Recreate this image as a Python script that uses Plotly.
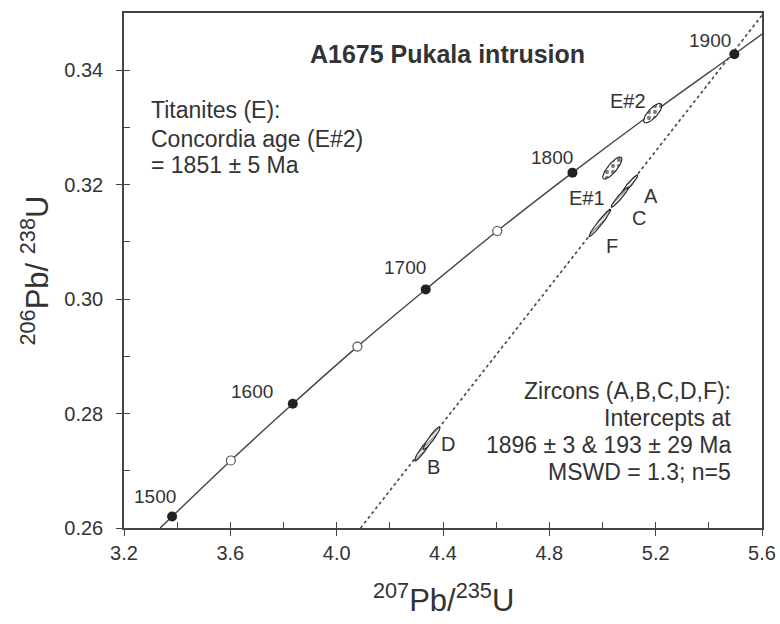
import numpy as np
import plotly.graph_objects as go

# ---- data ----
# concordia age markers (Ma) and their ratios
conc_ages = [1500, 1550, 1600, 1650, 1700, 1750, 1800, 1900]
conc_x = [3.381, 3.602, 3.835, 4.078, 4.335, 4.604, 4.887, 5.496]
conc_y = [0.2620, 0.2718, 0.2817, 0.2917, 0.3017, 0.3119, 0.3221, 0.3428]
conc_filled = [a % 100 == 0 for a in conc_ages]

# concordia curve trace points (incl. ends at the frame)
curve_x = [3.336, 3.381, 3.602, 3.835, 4.078, 4.335, 4.604, 4.887, 5.184, 5.496, 5.600]
curve_y = [0.2600, 0.2620, 0.2718, 0.2817, 0.2917, 0.3017, 0.3119, 0.3221, 0.3324, 0.3428, 0.3463]

# discordia (dotted) line end points
disc_x = [4.090, 5.600]
disc_y = [0.2600, 0.3496]

# error ellipses: name, centre x, centre y, half-width x, half-width y, rho
ell_names = ["E#2", "E#1", "A", "C", "F", "B", "D"]
ell_cx = [5.189, 5.037, 5.103, 5.065, 4.990, 4.325, 4.357]
ell_cy = [0.3325, 0.3229, 0.3201, 0.3178, 0.3133, 0.2737, 0.2757]
ell_ax = [0.0345, 0.0362, 0.0299, 0.0323, 0.0410, 0.0319, 0.0319]
ell_ay = [0.00170, 0.00194, 0.00161, 0.00174, 0.00240, 0.00199, 0.00199]
ell_rho = [0.760, 0.810, 0.945, 0.953, 0.965, 0.933, 0.933]
ell_kind = ["titanite", "titanite", "zircon", "zircon", "zircon", "zircon", "zircon"]

x_ticks = [3.2, 3.6, 4.0, 4.4, 4.8, 5.2, 5.6]
x_ticklabels = ["3.2", "3.6", "4.0", "4.4", "4.8", "5.2", "5.6"]
y_ticks = [0.26, 0.28, 0.30, 0.32, 0.34]
y_ticklabels = ["0.26", "0.28", "0.30", "0.32", "0.34"]

FONT = "Liberation Sans, Arial, sans-serif"
DARK = "#333333"
LINE = "#444444"

fig = go.Figure()

# discordia
fig.add_trace(go.Scatter(x=disc_x, y=disc_y, mode="lines",
                         line=dict(color=LINE, width=1.6, dash="dot"),
                         hoverinfo="skip", showlegend=False))
# concordia curve
fig.add_trace(go.Scatter(x=curve_x, y=curve_y, mode="lines", line_shape="spline",
                         line=dict(color=LINE, width=1.4),
                         hoverinfo="skip", showlegend=False))
# age markers
fx = [x for x, f in zip(conc_x, conc_filled) if f]
fy = [y for y, f in zip(conc_y, conc_filled) if f]
ox = [x for x, f in zip(conc_x, conc_filled) if not f]
oy = [y for y, f in zip(conc_y, conc_filled) if not f]
fig.add_trace(go.Scatter(x=ox, y=oy, mode="markers",
                         marker=dict(size=9, color="white", line=dict(color="#555555", width=1.2)),
                         showlegend=False))
fig.add_trace(go.Scatter(x=fx, y=fy, mode="markers",
                         marker=dict(size=10, color="#222222", line=dict(width=0)),
                         showlegend=False))

# ellipses
t = np.linspace(0, 2 * np.pi, 120)
for n, cx, cy, ax, ay, r, k in zip(ell_names, ell_cx, ell_cy, ell_ax, ell_ay, ell_rho, ell_kind):
    ex = cx + ax * np.cos(t)
    ey = cy + ay * (r * np.cos(t) + np.sqrt(1 - r * r) * np.sin(t))
    if k == "titanite":
        patt = dict(shape=".", fgcolor="#000000", bgcolor="white", size=6, solidity=0.4)
    else:
        patt = dict(shape="/", fgcolor="#222222", bgcolor="white", size=3, solidity=0.5)
    fig.add_trace(go.Scatter(x=ex, y=ey, mode="lines", fill="toself",
                             fillpattern=patt, fillcolor="white",
                             line=dict(color="#222222", width=1.1),
                             hoverinfo="skip", showlegend=False, name=n))

# invisible trace on overlay axes (for inner tick marks)
fig.add_trace(go.Scatter(x=[x_ticks[0]], y=[y_ticks[0]], xaxis="x2", yaxis="y2",
                         mode="markers", marker=dict(opacity=0), hoverinfo="skip",
                         showlegend=False))

ann = []
# age labels
age_lbl = [("1500", 3.3166, 0.26546), ("1600", 3.6815, 0.2838), ("1700", 4.257, 0.30546),
           ("1800", 4.810, 0.32467), ("1900", 5.4044, 0.34528)]
for txt, x, y in age_lbl:
    ann.append(dict(x=x, y=y, xref="x", yref="y", text=txt, showarrow=False,
                    font=dict(family=FONT, size=19, color=DARK)))
# ellipse labels
ell_lbl = [("E#2", 5.096, 0.33463), ("E#1", 4.9417, 0.31767), ("A", 5.1825, 0.31803),
           ("C", 5.1374, 0.31419), ("F", 5.0358, 0.3093), ("D", 4.4188, 0.27475),
           ("B", 4.3624, 0.27073)]
for txt, x, y in ell_lbl:
    ann.append(dict(x=x, y=y, xref="x", yref="y", text=txt, showarrow=False,
                    font=dict(family=FONT, size=20, color=DARK)))

# title
ann.append(dict(x=0.5078, y=0.9515, xref="paper", yref="paper", showarrow=False,
                text="<b>A1675 Pukala intrusion</b>",
                font=dict(family=FONT, size=25, color=DARK)))
# left block
left_lines = ["Titanites (E):", "Concordia age (E#2)", "= 1851 ± 5 Ma"]
for txt, yy in zip(left_lines, [0.8117, 0.7563, 0.7054]):
    ann.append(dict(x=0.0408, y=yy, xref="paper", yref="paper", showarrow=False,
                    xanchor="left", yanchor="middle", text=txt, borderpad=0,
                    font=dict(family=FONT, size=23, color=DARK)))
right_lines = ["Zircons (A,B,C,D,F):", "Intercepts at", "1896 ± 3 & 193 ± 29 Ma", "MSWD = 1.3; n=5"]
for txt, yy in zip(right_lines, [0.266, 0.2136, 0.1612, 0.1093]):
    ann.append(dict(x=0.953, y=yy, xref="paper", yref="paper", showarrow=False,
                    xanchor="right", yanchor="middle", text=txt, borderpad=0,
                    font=dict(family=FONT, size=23, color=DARK)))
# axis titles
ann.append(dict(x=0.5, y=-0.136, xref="paper", yref="paper", showarrow=False,
                xanchor="center", yanchor="middle",
                text="<sup>207</sup>Pb/<sup>235</sup>U",
                font=dict(family=FONT, size=31, color=DARK)))
ann.append(dict(x=-0.141, y=0.5, xref="paper", yref="paper", showarrow=False,
                xanchor="center", yanchor="middle", textangle=-90,
                text="<sup>206</sup>Pb/ <sup>238</sup>U",
                font=dict(family=FONT, size=31, color=DARK)))

axis_common = dict(showgrid=False, zeroline=False, showline=True, linecolor=LINE, linewidth=1.5,
                   mirror=True, ticks="outside", ticklen=6, tickwidth=1.3, tickcolor=LINE,
                   automargin=False, ticklabeloverflow="allow",
                   tickfont=dict(family=FONT, size=20, color=DARK))
inner_common = dict(showgrid=False, zeroline=False, showline=False, showticklabels=False,
                    automargin=False,
                    ticks="inside", ticklen=6, tickwidth=1.3, tickcolor=LINE)
fig.update_layout(
    width=780, height=624,
    margin=dict(l=124, r=18, t=13, b=96),
    paper_bgcolor="white", plot_bgcolor="white",
    showlegend=False,
    annotations=ann,
    xaxis=dict(range=[3.2, 5.6], tickvals=x_ticks, ticktext=x_ticklabels, **axis_common),
    yaxis=dict(range=[0.26, 0.35], tickvals=y_ticks, ticktext=y_ticklabels,
               ticklabelstandoff=9, **axis_common),
    xaxis2=dict(range=[3.2, 5.6], overlaying="x", anchor="y", side="bottom",
                tickvals=x_ticks,
                minor=dict(ticks="inside", ticklen=6, tickwidth=1.2, tickcolor=LINE, dtick=0.2, tick0=3.2),
                **inner_common),
    yaxis2=dict(range=[0.26, 0.35], overlaying="y", anchor="x", side="left",
                tickvals=y_ticks,
                minor=dict(ticks="inside", ticklen=6, tickwidth=1.2, tickcolor=LINE, dtick=0.01, tick0=0.26),
                **inner_common),
)

fig.write_html("out.html", config={"displayModeBar": False},
               post_script="document.body.style.margin='0';document.body.style.overflow='hidden';")
